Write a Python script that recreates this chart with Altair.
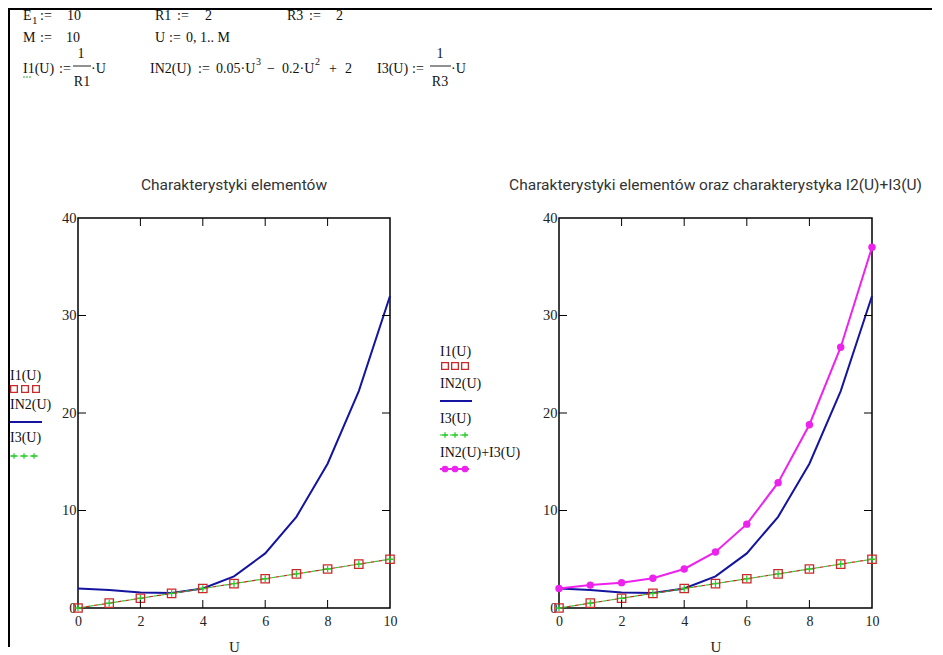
import altair as alt
import pandas as pd

# ---------------- data ----------------
U = [0, 1, 2, 3, 4, 5, 6, 7, 8, 9, 10]
I1 = [0, 0.5, 1, 1.5, 2, 2.5, 3, 3.5, 4, 4.5, 5]
IN2 = [2, 1.85, 1.6, 1.55, 2, 3.25, 5.6, 9.35, 14.8, 22.25, 32]
I3 = [0, 0.5, 1, 1.5, 2, 2.5, 3, 3.5, 4, 4.5, 5]
SUM = [2, 2.35, 2.6, 3.05, 4, 5.75, 8.6, 12.85, 18.8, 26.75, 37]
X_LABELS = [0, 2, 4, 6, 8, 10]
Y_LABELS = [0, 10, 20, 30, 40]
X_TICKS = [2, 4, 6, 8]
Y_TICKS = [10, 20, 30]

TITLE_L = "Charakterystyki elementów"
TITLE_R = "Charakterystyki elementów oraz charakterystyka I2(U)+I3(U)"

# ---------------- styles ----------------
SERIF = "Liberation Serif"
SANS = "Roboto"
RED = "#cc2a2a"
GREEN = "#2ccc2c"
BLUE = "#1414a0"
MAGENTA = "#ee22ee"
PLUS = "M-1,0L1,0M0,-1L0,1"

LW, RW, H = 312, 313, 390
SPACING = 169

df = pd.DataFrame({"U": U, "I1": I1, "IN2": IN2, "I3": I3, "SUM": SUM})
ONE = pd.DataFrame({"k": [0]})

xs = alt.Scale(domain=[0, 10], nice=False, zero=False)
ys = alt.Scale(domain=[0, 40], nice=False)

x_axis = alt.Axis(values=X_LABELS, title="U", ticks=False, domain=False, grid=False,
                  labelFont=SERIF, labelFontSize=14, labelColor="#222", labelPadding=6,
                  labelFlush=False, titleFont=SERIF, titleFontSize=15,
                  titleFontWeight="normal", titleColor="#222", titlePadding=11)
y_axis = alt.Axis(values=Y_LABELS, title=None, ticks=False, domain=False, grid=False,
                  labelFont=SERIF, labelFontSize=14.5, labelColor="#222", labelPadding=2,
                  labelFlush=False)


def X(field):
    return alt.X(field, type="quantitative", scale=xs, axis=x_axis)


def Y(field):
    return alt.Y(field, type="quantitative", scale=ys, axis=y_axis)


def txt(s, x, y, size=14, font=SERIF, align="left", color="#111"):
    return alt.Chart(ONE).mark_text(text=s, font=font, fontSize=size, align=align,
                                    baseline="middle", color=color).encode(
        x=alt.value(x), y=alt.value(y))


def hline(x1, x2, y, color="black", w=1.0, dash=None):
    kw = {"color": color, "strokeWidth": w}
    if dash:
        kw["strokeDash"] = dash
    return alt.Chart(ONE).mark_rule(**kw).encode(
        x=alt.value(x1), x2=alt.value(x2), y=alt.value(y))


def vline(x, y1, y2, color="black", w=1.0):
    return alt.Chart(ONE).mark_rule(color=color, strokeWidth=w).encode(
        x=alt.value(x), y=alt.value(y1), y2=alt.value(y2))


def sym(x, y, shape, color, filled, size=55, sw=1.3):
    return alt.Chart(ONE).mark_point(shape=shape, color=color, filled=filled, size=size,
                                     strokeWidth=sw, opacity=1).encode(
        x=alt.value(x), y=alt.value(y))


def ticks(W):
    xt = pd.DataFrame({"t": X_TICKS})
    yt = pd.DataFrame({"t": Y_TICKS})
    top = alt.Chart(xt).mark_rule(color="black").encode(
        x=X("t"), y=alt.value(0), y2=alt.value(8))
    bot = alt.Chart(xt).mark_rule(color="black").encode(
        x=X("t"), y=alt.value(H), y2=alt.value(H - 8))
    lef = alt.Chart(yt).mark_rule(color="black").encode(
        y=Y("t"), x=alt.value(0), x2=alt.value(8))
    rig = alt.Chart(yt).mark_rule(color="black").encode(
        y=Y("t"), x=alt.value(W), x2=alt.value(W - 8))
    return [top, bot, lef, rig]


def series_layers(with_sum):
    base = alt.Chart(df)
    blue = base.mark_line(color=BLUE, strokeWidth=2).encode(x=X("U"), y=Y("IN2"))
    red_l = base.mark_line(color=RED, strokeWidth=1.2, strokeDash=[4, 4]).encode(
        x=X("U"), y=Y("I1"))
    grn_l = base.mark_line(color=GREEN, strokeWidth=1.2, strokeDash=[4, 4],
                           strokeDashOffset=4).encode(x=X("U"), y=Y("I3"))
    sq = base.mark_point(shape="square", size=70, color=RED, filled=False,
                         strokeWidth=1.3, opacity=1).encode(x=X("U"), y=Y("I1"))
    pl = base.mark_point(shape=PLUS, size=45, color=GREEN, filled=False,
                         strokeWidth=1.3, opacity=1).encode(x=X("U"), y=Y("I3"))
    layers = [blue, red_l, grn_l, sq, pl]
    if with_sum:
        mag = base.mark_line(color=MAGENTA, strokeWidth=2).encode(x=X("U"), y=Y("SUM"))
        dots = base.mark_point(shape="circle", size=55, color=MAGENTA, filled=True,
                               opacity=1).encode(x=X("U"), y=Y("SUM"))
        layers += [mag, dots]
    return layers


# ---------- header (formulas), coords relative to left plot origin ----------
def px(x):  # page x -> left-panel coordinate
    return x - 78


def py(y):  # page y -> panel coordinate
    return y - 217


R1Y, R2Y, R3Y = 15, 37, 68

header = [
    txt("E", px(23), py(R1Y)), txt("1", px(32), py(R1Y + 5), size=11),
    txt(":=", px(40), py(R1Y)), txt("10", px(67), py(R1Y)),
    txt("R1", px(155), py(R1Y)), txt(":=", px(177), py(R1Y)), txt("2", px(205), py(R1Y)),
    txt("R3", px(287), py(R1Y)), txt(":=", px(309), py(R1Y)), txt("2", px(336), py(R1Y)),
    txt("M", px(23), py(R2Y)), txt(":=", px(40), py(R2Y)), txt("10", px(66), py(R2Y)),
    txt("U", px(155), py(R2Y)), txt(":=", px(169), py(R2Y)), txt("0, 1.. M", px(186), py(R2Y)),
    # I1(U) := 1/R1 * U
    txt("I1(U)", px(23), py(R3Y)), txt(":=", px(59), py(R3Y)),
    txt("1", px(81), py(R3Y - 15), align="center"),
    hline(px(73), px(91), py(R3Y - 3), "#222", 1),
    txt("R1", px(82), py(R3Y + 13), align="center"), txt("·U", px(91), py(R3Y)),
    hline(px(23), px(32), py(R3Y + 8), "#33aa33", 1.2, dash=[2, 1]),
    # IN2(U) := 0.05 U^3 - 0.2 U^2 + 2
    txt("IN2(U)", px(150), py(R3Y)), txt(":=", px(198), py(R3Y)),
    txt("0.05·U", px(216), py(R3Y)), txt("3", px(256), py(R3Y - 7), size=10),
    txt("−", px(267), py(R3Y)), txt("0.2·U", px(282), py(R3Y)),
    txt("2", px(315), py(R3Y - 7), size=10), txt("+", px(329), py(R3Y)),
    txt("2", px(345), py(R3Y)),
    # I3(U) := 1/R3 * U
    txt("I3(U)", px(377), py(R3Y)), txt(":=", px(412), py(R3Y)),
    txt("1", px(440), py(R3Y - 15), align="center"),
    hline(px(430), px(451), py(R3Y - 3), "#222", 1),
    txt("R3", px(440), py(R3Y + 13), align="center"), txt("·U", px(451), py(R3Y)),
]

# outer frame (top and left black lines)
frame = [
    hline(px(8), px(932), py(8), "black", 2),
    vline(px(9), py(7), py(646), "black", 2),
]

TS = 15.5
left_title = [txt(TITLE_L, LW / 2, -33, size=TS, font=SANS, align="center", color="#333")]

LS = 14
left_legend = [
    txt("I1(U)", -68, 158, size=LS),
    sym(-64, 171, "square", RED, False, 45), sym(-53, 171, "square", RED, False, 45),
    sym(-42, 171, "square", RED, False, 45),
    txt("IN2(U)", -68, 187, size=LS),
    hline(-68, -36, 204, BLUE, 2),
    txt("I3(U)", -68, 220, size=LS),
    hline(-68, -38, 238, GREEN, 1, dash=[3, 2]),
    sym(-64, 238, PLUS, GREEN, False, 30), sym(-54, 238, PLUS, GREEN, False, 30),
    sym(-44, 238, PLUS, GREEN, False, 30),
]

left = alt.layer(*series_layers(False), *ticks(LW), *header, *frame, *left_title,
                 *left_legend).properties(width=LW, height=H)

right_title = [txt(TITLE_R, RW / 2, -33, size=TS, font=SANS, align="center", color="#333")]

RX = -119  # legend left edge relative to right plot
right_legend = [
    txt("I1(U)", RX, 134, size=LS),
    sym(RX + 5, 148, "square", RED, False, 45), sym(RX + 15, 148, "square", RED, False, 45),
    sym(RX + 25, 148, "square", RED, False, 45),
    txt("IN2(U)", RX, 166, size=LS),
    hline(RX, RX + 32, 183, BLUE, 2),
    txt("I3(U)", RX, 201, size=LS),
    hline(RX, RX + 30, 217, GREEN, 1, dash=[3, 2]),
    sym(RX + 5, 217, PLUS, GREEN, False, 30), sym(RX + 15, 217, PLUS, GREEN, False, 30),
    sym(RX + 25, 217, PLUS, GREEN, False, 30),
    txt("IN2(U)+I3(U)", RX, 235, size=LS),
    hline(RX, RX + 29, 251, MAGENTA, 2),
    sym(RX + 5, 251, "circle", MAGENTA, True, 45), sym(RX + 15, 251, "circle", MAGENTA, True, 45),
    sym(RX + 25, 251, "circle", MAGENTA, True, 45),
]

right = alt.layer(*series_layers(True), *ticks(RW), *right_title,
                  *right_legend).properties(width=RW, height=H)

chart = alt.hconcat(left, right).properties(
    spacing=SPACING, bounds="flush", background="white",
    padding={"left": -2, "top": -2, "right": 0, "bottom": 0},
).configure_view(stroke="black", strokeWidth=1.5)

chart.save("out.html", embed_options={"renderer": "svg", "actions": False})
